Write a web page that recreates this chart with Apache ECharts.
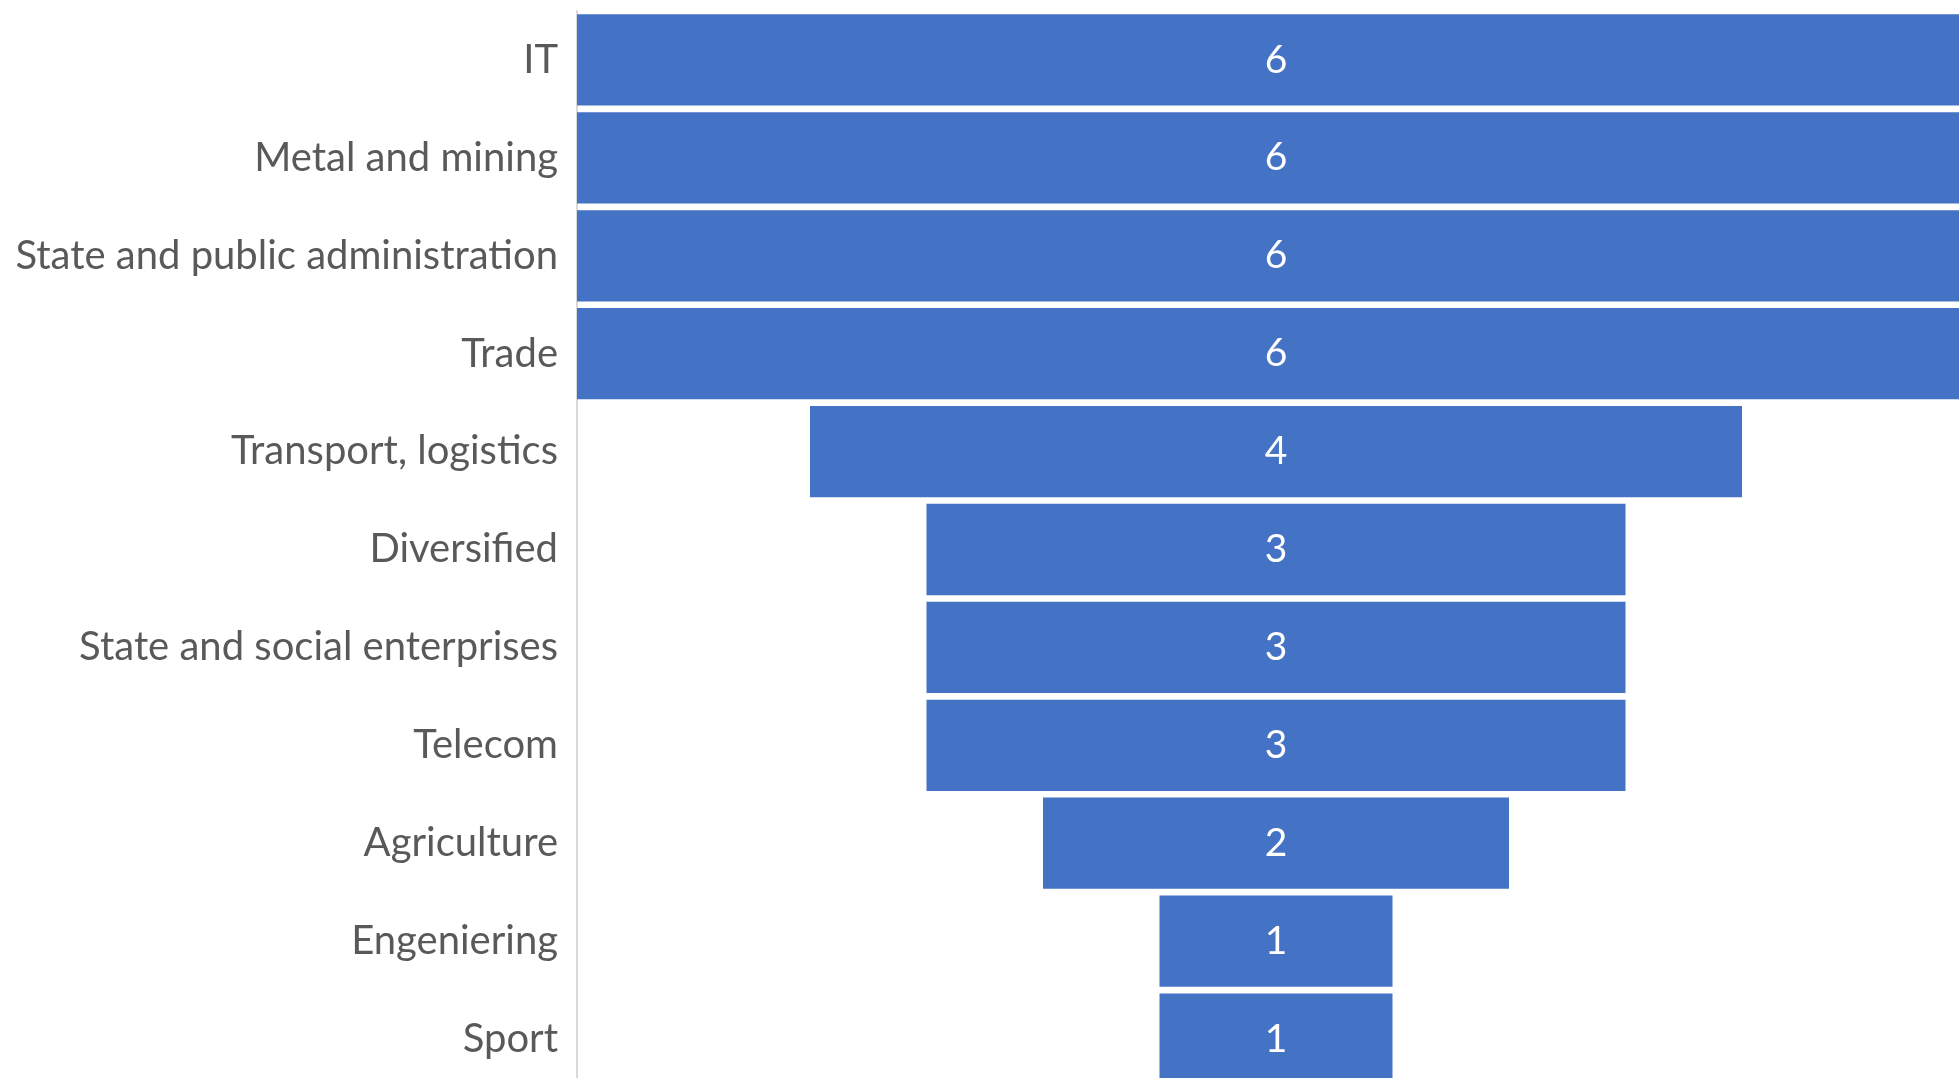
<!DOCTYPE html>
<html><head><meta charset="utf-8">
<script src="https://cdn.jsdelivr.net/npm/echarts@6/dist/echarts.min.js"></script>
<style>html,body{margin:0;padding:0;background:#fff;overflow:hidden}#w{width:1959px;height:1078px;overflow:hidden;position:relative}#c{width:2000px;height:1100px;position:absolute;left:0;top:0}</style>
</head><body><div id="w"><div id="c"></div></div>
<script>
const categories = ["IT","Metal and mining","State and public administration","Trade","Transport, logistics","Diversified","State and social enterprises","Telecom","Agriculture","Engeniering","Sport"];
const values = [6,6,6,6,4,3,3,3,2,1,1];
const maxValue = 6;
const offsets = values.map(v => (maxValue - v) / 2);
const chart = echarts.init(document.getElementById('c'));
chart.setOption({
  animation: false,
  grid: {left: 577, top: 11, width: 1398, height: 1077, containLabel: false},
  xAxis: {type: 'value', min: 0, max: maxValue, show: false},
  yAxis: {
    type: 'category', data: categories, inverse: true,
    axisLine: {show: true, lineStyle: {color: '#d9d9d9', width: 2}},
    axisTick: {show: false},
    axisLabel: {color: '#595959', fontSize: 40, fontFamily: 'Lato', margin: 19}
  },
  series: [
    {type: 'bar', stack: 'f', data: offsets, itemStyle: {color: 'transparent'}, barCategoryGap: '6.8%', silent: true},
    {type: 'bar', stack: 'f', data: values, barCategoryGap: '6.8%',
     itemStyle: {color: '#4472C4'},
     label: {show: true, position: 'inside', color: '#ffffff', fontSize: 39, fontFamily: 'Lato'}}
  ]
});
</script></body></html>
